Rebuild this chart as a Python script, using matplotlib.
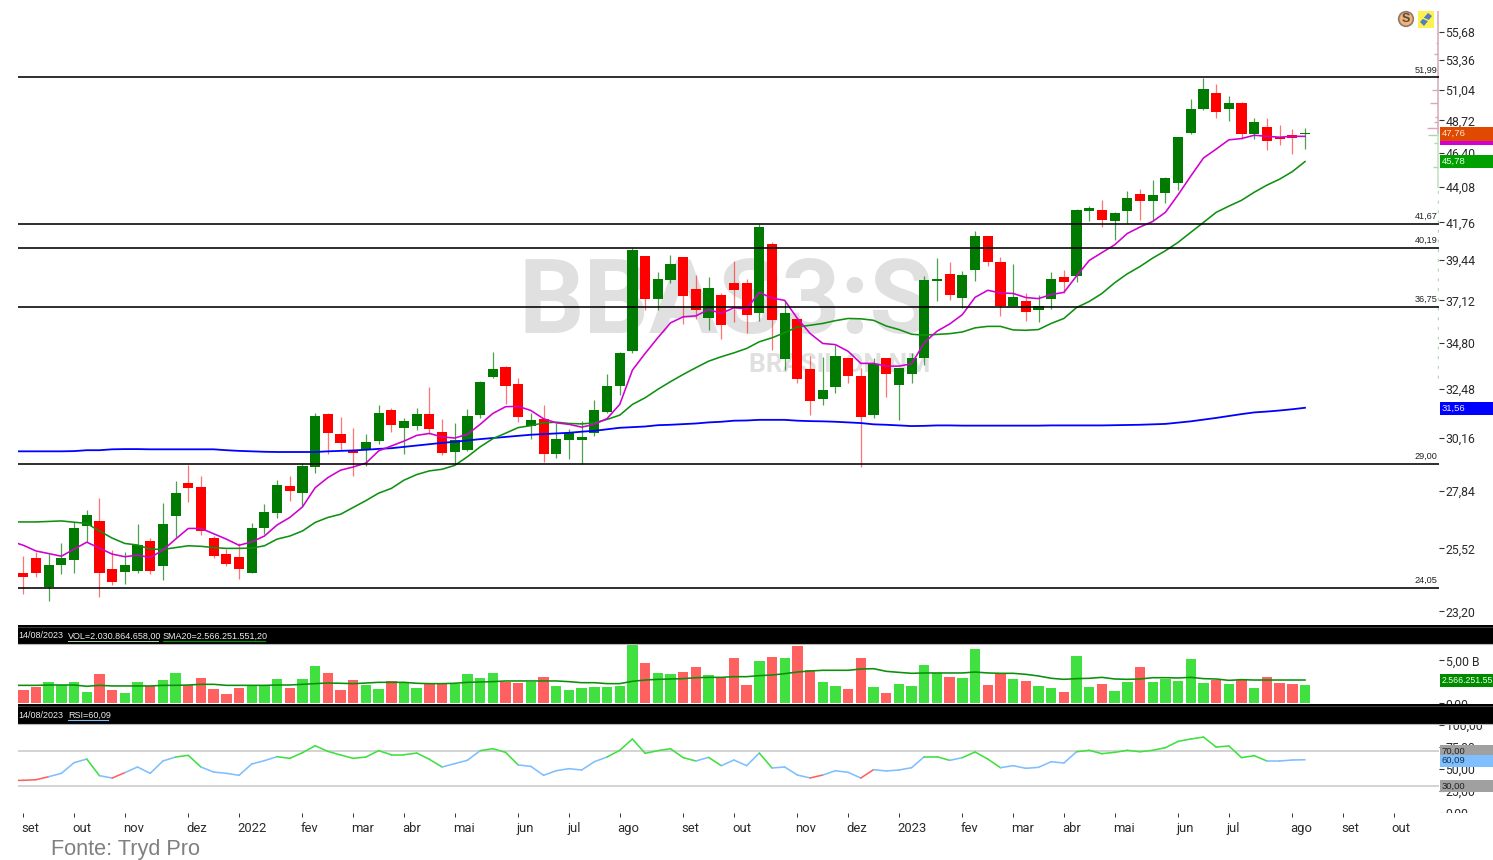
import matplotlib
matplotlib.use("Agg")
import matplotlib.pyplot as plt
from matplotlib.patches import Rectangle, Circle, Polygon
from matplotlib.transforms import ScaledTranslation

W, H = 1493, 860

opens = [24.58,25.15,24.06,24.88,25.08,26.40,26.60,24.74,24.62,24.65,
25.79,24.84,26.80,28.19,27.99,25.92,25.30,25.20,24.60,26.30,
26.92,28.05,27.74,28.86,31.25,30.35,29.57,29.62,30.00,31.45,
30.59,30.72,31.25,30.43,29.52,29.60,31.21,33.07,33.56,32.69,
30.70,31.04,29.45,30.05,30.05,30.37,31.36,32.61,34.38,39.67,
37.18,38.26,39.61,37.77,36.15,37.41,38.13,38.13,36.44,40.45,
33.99,36.10,33.44,32.00,32.56,34.05,33.09,31.20,34.00,32.66,
33.19,34.03,38.24,38.63,37.28,38.88,40.89,39.33,36.80,37.06,
36.56,37.18,38.43,38.52,42.46,42.55,41.82,42.50,43.56,43.13,
43.65,44.34,47.77,49.55,50.76,49.58,50.03,47.74,48.25,47.54,
47.66,47.72]
closes = [24.44,24.58,24.88,25.15,26.33,26.86,24.58,24.24,24.90,25.65,
24.68,26.47,27.74,27.96,26.20,25.22,24.92,24.74,26.30,26.98,
28.10,27.85,28.89,31.17,30.40,29.91,29.48,29.95,31.32,30.76,
30.95,31.25,30.55,29.48,30.06,31.17,32.83,33.44,32.61,31.14,
30.99,29.45,30.10,30.40,30.18,31.45,32.64,34.29,40.03,37.22,
38.35,39.23,37.36,36.56,37.80,35.74,37.68,36.30,41.49,36.02,
36.44,32.94,31.88,32.43,34.15,33.11,31.12,33.74,33.19,33.49,
34.05,38.26,38.36,37.43,38.58,40.89,39.31,36.80,37.31,36.50,
36.80,38.33,38.17,42.55,42.65,41.93,42.34,43.34,43.11,43.51,
44.63,47.50,49.55,51.09,49.37,50.03,47.71,48.59,47.26,47.40,
47.45,47.81]
highs = [25.23,25.37,25.30,25.72,26.57,27.03,27.55,25.45,25.37,26.47,
25.91,27.34,28.24,28.93,28.49,26.00,25.51,25.72,26.51,27.30,
28.29,28.49,29.03,31.32,31.32,31.12,30.62,30.35,31.70,31.56,
31.07,31.56,32.55,31.04,30.85,31.48,32.85,34.32,33.61,32.99,
31.29,31.71,30.85,30.55,30.93,31.91,33.22,34.32,40.15,39.71,
38.76,39.77,39.61,38.60,38.47,37.51,39.41,38.36,41.67,40.52,
37.06,36.15,34.15,34.06,34.72,34.05,33.51,34.03,34.00,33.49,
34.29,38.52,39.59,39.33,38.80,41.22,40.89,39.63,39.23,37.51,
37.45,38.72,38.88,42.60,42.80,43.17,42.40,43.78,43.92,44.52,
44.72,47.50,50.30,51.97,51.49,50.56,50.08,48.90,48.90,48.40,
48.07,48.13]
lows = [23.82,24.44,23.58,24.55,24.58,25.75,23.72,24.14,24.20,24.58,
24.55,24.33,25.98,27.38,26.06,25.16,24.85,24.36,24.58,26.08,
26.73,27.43,27.22,28.59,29.42,29.61,28.48,28.91,29.86,30.43,
29.41,30.50,30.32,29.38,28.98,29.57,31.08,33.03,31.74,30.88,
30.12,29.08,29.26,29.20,28.97,30.25,31.32,32.16,34.26,36.57,
36.61,38.13,35.84,36.10,35.48,34.99,35.91,35.31,36.00,34.46,
33.39,32.78,31.21,31.71,32.26,32.75,28.86,31.06,32.07,30.97,
32.78,33.69,37.06,37.16,36.70,38.24,39.07,36.24,36.80,35.98,
35.92,36.64,37.51,38.17,41.82,41.47,40.68,41.72,41.89,41.82,
43.03,43.87,47.73,49.50,48.90,48.64,47.38,47.36,46.60,46.91,
46.33,46.67]

# the line series start one bar before the first visible candle
sma_fast = [25.80,25.64,25.42,25.32,25.22,25.49,25.76,25.53,25.30,25.20,25.26,
25.17,25.45,25.88,26.30,26.30,26.09,25.88,25.64,25.77,26.00,
26.44,26.74,27.17,27.97,28.40,28.72,28.86,29.03,29.57,29.79,
30.01,30.27,30.36,30.20,30.15,30.32,30.78,31.29,31.61,31.63,
31.43,31.04,30.85,30.78,30.65,30.78,31.05,31.72,33.41,34.26,
35.08,35.88,36.21,36.26,36.61,36.40,36.71,36.65,37.57,37.25,
37.12,36.12,35.31,34.78,34.72,34.37,33.75,33.75,33.61,33.61,
33.73,34.82,35.43,35.82,36.33,37.29,37.69,37.54,37.51,37.28,
37.22,37.45,37.57,38.52,39.43,39.90,40.37,41.07,41.47,41.82,
42.40,43.54,44.79,46.03,46.65,47.31,47.40,47.64,47.56,47.50,
47.56,47.56]
sma_mid = [26.56,26.56,26.56,26.58,26.60,26.55,26.50,26.20,25.92,25.71,25.65,
25.49,25.48,25.55,25.62,25.60,25.55,25.52,25.52,25.53,25.62,
25.88,26.00,26.20,26.54,26.74,26.87,27.15,27.43,27.74,27.94,
28.29,28.53,28.69,28.76,28.93,29.31,29.75,30.12,30.37,30.63,
30.72,30.85,30.88,30.82,30.80,30.85,31.01,31.21,31.72,32.04,
32.45,32.83,33.19,33.53,33.86,34.09,34.29,34.52,34.87,35.08,
35.35,35.66,35.75,35.85,36.00,36.12,36.10,36.02,35.71,35.52,
35.27,35.22,35.26,35.30,35.39,35.61,35.69,35.69,35.50,35.48,
35.52,35.85,36.12,36.72,37.06,37.51,38.12,38.64,39.07,39.57,
40.01,40.52,41.14,41.76,42.40,42.80,43.18,43.71,44.18,44.58,
45.09,45.78]
sma_slow = [29.55,29.55,29.55,29.55,29.55,29.56,29.60,29.60,29.64,29.65,29.65,
29.64,29.64,29.64,29.64,29.64,29.64,29.60,29.57,29.55,29.53,
29.52,29.52,29.52,29.52,29.55,29.57,29.59,29.62,29.66,29.69,
29.75,29.81,29.87,29.93,29.98,30.04,30.10,30.15,30.20,30.25,
30.30,30.33,30.36,30.39,30.44,30.48,30.55,30.62,30.65,30.68,
30.74,30.76,30.79,30.82,30.87,30.90,30.95,30.96,30.99,30.99,
30.99,30.95,30.93,30.92,30.90,30.87,30.84,30.78,30.76,30.73,
30.70,30.71,30.73,30.73,30.72,30.72,30.72,30.72,30.72,30.72,
30.72,30.73,30.73,30.73,30.73,30.73,30.74,30.75,30.76,30.78,
30.80,30.86,30.92,31.00,31.08,31.17,31.26,31.34,31.38,31.43,
31.49,31.56]

levels = [51.99, 41.67, 40.19, 36.75, 29.00, 24.05]
price_ticks = [55.68,53.36,51.04,48.72,46.40,44.08,41.76,39.44,37.12,34.80,32.48,30.16,27.84,25.52,23.20]

volume = [1.55,1.86,2.48,2.09,2.48,1.32,3.41,1.55,1.16,2.48,
1.98,2.71,3.49,2.09,2.91,1.67,1.05,1.78,2.09,2.09,
2.79,1.78,2.79,4.34,3.49,1.55,2.71,2.09,1.67,2.60,
2.40,1.78,2.29,2.29,2.29,3.41,2.98,3.49,2.48,2.40,
2.52,3.10,1.98,1.55,1.78,1.86,1.86,1.98,6.78,4.73,
3.49,3.41,3.60,4.22,3.29,2.91,5.23,2.17,4.92,5.35,
5.23,6.67,3.91,2.48,1.98,1.67,5.23,1.86,1.24,2.29,
1.98,4.46,3.49,3.10,2.98,6.28,2.09,3.49,2.79,2.60,
1.98,1.78,1.36,5.54,1.86,2.29,1.47,2.48,4.22,2.48,
2.79,2.60,5.16,2.36,2.71,2.29,2.71,1.78,3.02,2.36,
2.29,2.10]
vol_sma = [2.09,2.09,2.09,2.13,2.13,2.13,1.98,2.09,2.02,2.02,2.02,
2.02,2.09,2.09,2.13,2.21,2.21,2.09,2.09,2.09,2.09,
2.13,2.13,2.21,2.29,2.36,2.33,2.29,2.36,2.44,2.44,
2.44,2.33,2.29,2.29,2.33,2.44,2.48,2.52,2.60,2.60,
2.60,2.60,2.60,2.52,2.40,2.40,2.29,2.29,2.56,2.71,
2.79,2.83,2.87,2.98,3.02,3.02,3.10,3.10,3.22,3.29,
3.45,3.64,3.76,3.84,3.84,3.84,3.99,4.03,3.72,3.60,
3.49,3.53,3.53,3.53,3.53,3.64,3.53,3.49,3.49,3.37,
3.18,2.91,2.79,2.87,2.91,3.02,2.83,2.79,2.83,2.98,
2.98,2.95,3.02,2.87,2.83,2.67,2.75,2.71,2.71,2.71,
2.71,2.71]
rsi = [36.6,36.8,37.5,40.9,44.7,56.8,60.9,42.1,39.4,45.5,51.9,
44.7,58.7,63.2,65.1,51.9,46.2,44.7,42.5,55.3,59.1,
63.6,61.7,68.1,76.0,69.6,65.5,61.7,63.2,70.4,65.8,
65.8,67.7,60.6,51.9,55.7,59.5,70.4,72.6,68.5,54.2,
52.6,42.5,47.7,50.0,48.5,57.9,63.2,70.8,83.6,67.4,
70.4,72.6,62.5,58.7,62.8,53.4,59.8,53.4,67.7,50.8,
51.9,42.8,39.5,42.8,47.7,45.8,39.4,48.9,47.4,48.5,
51.1,63.6,63.6,59.4,62.5,68.9,60.9,51.1,53.4,50.4,
51.5,57.9,56.4,69.2,70.8,67.0,68.5,70.8,69.2,70.8,
73.8,80.9,83.6,85.8,74.5,75.7,62.5,64.7,58.7,58.7,
59.8,60.09]
rsi_bands = [70, 30]
rsi_ticks = [0, 25, 50, 75, 100]
rsi_tick_labels = ["0,00", "25,00", "50,00", "75,00", "100,00"]
vol_ticks = [0, 5]
vol_tick_labels = ["0,00", "5,00 B"]

date_ticks = [0,4,8,13,17,22,26,30,34,39,43,47,52,56,61,65,69,74,78,82,86,91,95,100,104,108]
date_labels = ["set","out","nov","dez","2022","fev","mar","abr","mai","jun","jul","ago","set",
               "out","nov","dez","2023","fev","mar","abr","mai","jun","jul","ago","set","out"]

profile_prices = [56.44,55.6,54.8,53.9,52.9,51.0,50.0,49.0,48.6,48.2,47.65,47.1,45.4]
profile_sizes = [0.12,0.15,0.25,0.4,0.15,0.55,0.7,0.3,0.4,0.95,0.9,0.4,0.5]

plt.rcParams["font.family"] = ["Roboto", "DejaVu Sans"]
SMALL = ["Liberation Sans", "DejaVu Sans"]

dpi = 100
fig = plt.figure(figsize=(W / dpi, H / dpi), dpi=dpi, facecolor="white")

def box(x0, y0, x1, y1):
    return [x0 / W, 1 - y1 / H, (x1 - x0) / W, (y1 - y0) / H]

bg = fig.add_axes([0, 0, 1, 1], zorder=0)
bg.set_xlim(0, W); bg.set_ylim(H, 0); bg.axis("off")

AX_L, AX_R = 18, 1439
ax = fig.add_axes(box(AX_L, 0, AX_R, 625), zorder=1)
axv = fig.add_axes(box(AX_L, 644, AX_R, 704), zorder=1)
axr = fig.add_axes(box(AX_L, 724, AX_R, 813), zorder=1)
over = fig.add_axes([0, 0, 1, 1], zorder=5)
over.set_xlim(0, W); over.set_ylim(H, 0); over.axis("off"); over.patch.set_alpha(0)

xlim = (-0.418, 111.56)
xs = list(range(len(opens)))
xl = list(range(-1, len(opens)))
for a in (ax, axv, axr):
    a.patch.set_alpha(0)
    a.set_xlim(*xlim)
    for s in a.spines.values():
        s.set_visible(False)
    a.yaxis.tick_right()
    a.tick_params(axis="y", length=3.5, width=0.8, color="#333333", labelcolor="#2a2a2a", labelsize=8.8, pad=1.2)
    a.minorticks_off()

# watermark
bg.text(726, 304, "BBAS3:S", fontsize=74, fontweight="bold", color="#e0e0e0", ha="center", va="center")
bg.text(840, 365, "BRASIL ON NM", fontsize=19, fontweight="bold", color="#e0e0e0", ha="center", va="center")

# main panel
ax.set_yscale("log")
ax.set_ylim(22.73, 58.44)
ax.set_yticks(price_ticks)
ax.set_yticklabels([f"{v:.2f}".replace(".", ",") for v in price_ticks])
ax.minorticks_off()
ax.set_xticks([])

RED, GREEN = "#ff0000", "#007a00"
for i, o, h, l, c in zip(xs, opens, highs, lows, closes):
    col = GREEN if c >= o else RED
    ax.vlines(i, l, h, color=col, lw=0.9, alpha=0.55 if col == RED else 0.7, zorder=2)
    ax.bar(i, abs(c - o), bottom=min(o, c), width=0.8, color=col, edgecolor="none", zorder=3)

ax.plot(xl, sma_slow, color="#0000ff", lw=1.3, zorder=4)
ax.plot(xl, sma_mid, color="#109010", lw=1.15, zorder=4)
ax.plot(xl, sma_fast, color="#d000d0", lw=1.15, zorder=5)
for lv in levels:
    ax.axhline(lv, color="#000000", lw=1.15, zorder=6)
    ax.annotate(f"{lv:.2f}".replace(".", ","), (1, lv), xycoords=("axes fraction", "data"),
                xytext=(-1.2, 2.2), textcoords="offset points", ha="right", va="bottom",
                fontsize=6.6, color="#222222", family=SMALL)

# volume-at-price strip along the axis
xr = xlim[1]
for p, s, in zip(profile_prices, profile_sizes):
    ax.hlines(p, xr - s, xr, color="#d8a8b4" if p > 47.7 else "#a8d8a8", lw=1.0, zorder=1)
ax.vlines(xr - 0.05, 47.7, 57.5, color="#d8b0bc", lw=1.2, zorder=1)
ax.vlines(xr - 0.05, 44.0, 47.7, color="#c4e4c4", lw=1.2, zorder=1)
ax.vlines(xr - 0.05, 33.0, 44.0, color="#b0d8b0", lw=1.0, linestyles=(0, (2, 5)), zorder=1)

# volume panel
axv.set_ylim(-0.08, 6.9)
axv.bar(xs, volume, width=0.82, color=["#40e040" if c >= o else "#ff6060" for o, c in zip(opens, closes)],
        edgecolor="none", zorder=2)
axv.plot(xl, vol_sma, color="#0a8f0a", lw=1.15, zorder=3)
axv.set_yticks(vol_ticks); axv.set_yticklabels(vol_tick_labels)
axv.set_xticks([])

# RSI panel
axr.set_ylim(-0.2, 100.6)
for b in rsi_bands:
    axr.axhline(b, color="#c8c8c8", lw=1.1, zorder=1)
for i in range(len(rsi) - 1):
    v = rsi[i]
    col = "#40e040" if v >= 60 else ("#ff6060" if v < 40 else "#80bfff")
    axr.plot([xl[i], xl[i + 1]], [rsi[i], rsi[i + 1]], color=col, lw=1.15, zorder=3, solid_capstyle="round")
axr.set_yticks(rsi_ticks); axr.set_yticklabels(rsi_tick_labels)
axr.set_xticks(date_ticks)
axr.set_xticklabels(date_labels, ha="left", fontsize=9.4, color="#2a2a2a")
axr.tick_params(axis="x", length=3.2, width=0.7, color="#333333", pad=3.6)
shift = ScaledTranslation(-2 / dpi, 0, fig.dpi_scale_trans)
for t in axr.get_xticklabels():
    t.set_transform(t.get_transform() + shift)

# black header bands
for y0, y1 in ((625, 644), (704, 723.5)):
    over.add_patch(Rectangle((AX_L, y0), W - AX_L, y1 - y0, fc="#000000", ec="none"))
    over.plot([AX_L, W], [y1 + 0.3, y1 + 0.3], color="#b8b8b8", lw=0.8)
over.plot([AX_L, W], [627, 627], color="#3a3a3a", lw=0.8)
over.plot([AX_L, W], [706, 706], color="#3a3a3a", lw=0.8)
over.add_patch(Rectangle((AX_R, 813), W - AX_R, 8, fc="white", ec="none"))

hdr = dict(fontsize=6.5, color="#ececec", va="center", ha="left", family=SMALL)
over.text(18, 636, "14/08/2023", **hdr)
over.text(68, 636, "VOL=2.030.864.658,00", **hdr)
over.text(163, 636, "SMA20=2.566.251.551,20", **hdr)
over.plot([68, 158], [641, 641], color="#b0e0b0", lw=0.7)
over.plot([163, 265], [641, 641], color="#109010", lw=0.9)
over.text(18, 715, "14/08/2023", **hdr)
over.text(68, 715, "RSI=60,09", **hdr)
over.plot([68, 108], [720, 720], color="#80bfff", lw=0.8)

# value tags
def tag(y0, y1, fc, txt, tc="white", size=6.8):
    over.add_patch(Rectangle((AX_R + 1, y0), W - AX_R - 1, y1 - y0, fc=fc, ec="none"))
    if txt:
        over.text(AX_R + 2.5, (y0 + y1) / 2, txt, color=tc, fontsize=size, va="center", ha="left", family=SMALL)

tag(139, 145, "#d000d0", "")
tag(127, 140.5, "#e04a00", "47,76", "#ffe8d8")
tag(155, 168, "#00a000", "45,78", "#e8ffe8")
tag(402, 415, "#0000ff", "31,56", "#e8e8ff")
tag(674, 687, "#008a00", "2.566.251.55", "#e8ffe8", 6.3)
tag(745, 757, "#a0a0a0", "70,00", "#222222")
tag(754.5, 766.5, "#80bfff", "60,09", "#16324a")
tag(780, 792, "#a0a0a0", "30,00", "#222222")

# provider icons
over.add_patch(Circle((1406, 19), 7.3, fc="#f2b27a", ec="#8a7a6a", lw=1.2))
over.text(1406, 19.3, "S", fontsize=9, fontweight="bold", color="#5a4a3a", ha="center", va="center", family=SMALL)
over.add_patch(Rectangle((1418, 11), 16, 17, fc="#fff050", ec="none"))
over.add_patch(Polygon([(1420, 22), (1428, 13), (1432, 16), (1424, 26)], fc="#4f7fc0", ec="none"))
over.plot([1420, 1432], [17, 22], color="#fff050", lw=1.0)

over.text(51, 850, "Fonte: Tryd Pro", fontsize=15.6, color="#808080", ha="left", va="center", family=SMALL)

fig.savefig("out.png", dpi=dpi)
